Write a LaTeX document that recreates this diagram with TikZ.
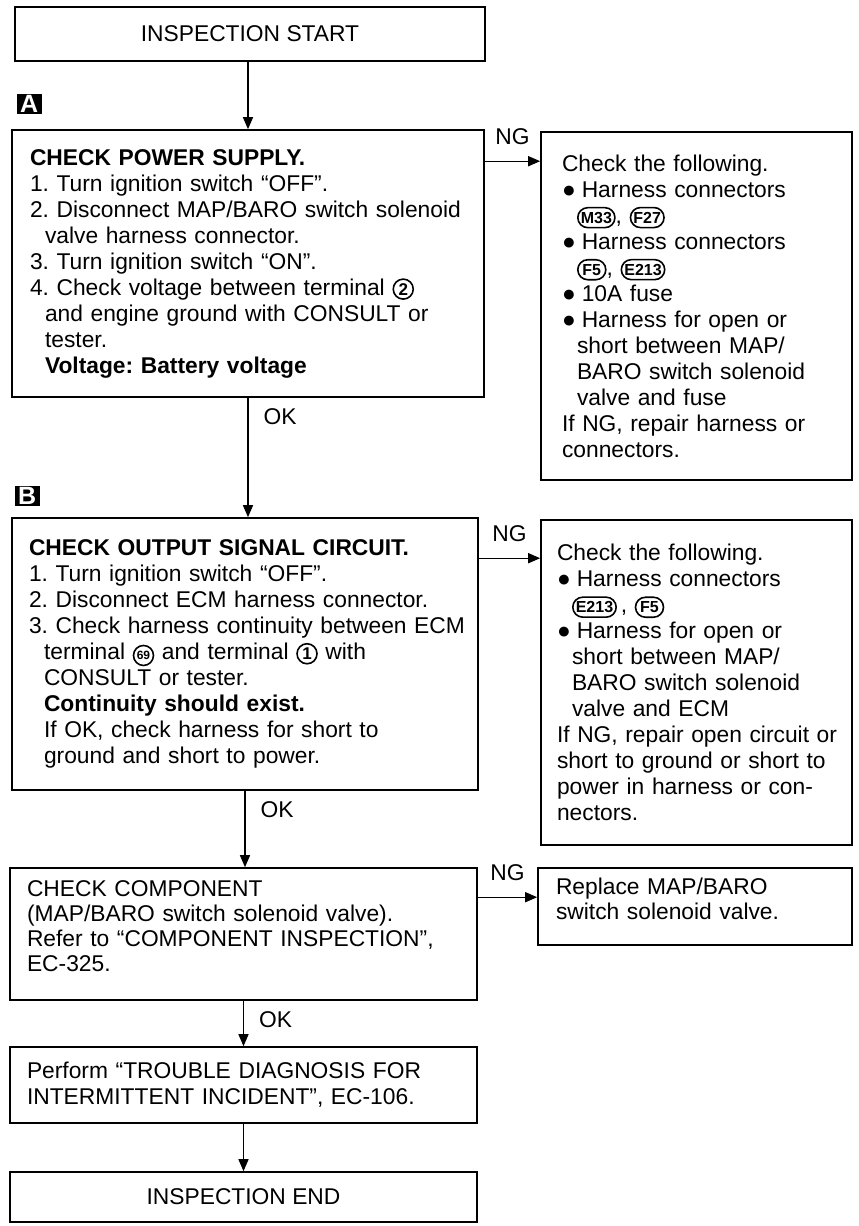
\documentclass[tikz,border=0pt]{standalone}
\usepackage{fontspec}
\setmainfont{Liberation Sans}
\usepackage{tikz}
\usetikzlibrary{positioning,arrows.meta}

\newcommand{\txt}{\fontsize{11.4}{13}\selectfont}
\newcommand{\txtc}{\fontsize{11.4}{12.4}\selectfont}
\newcommand{\indnt}{\hspace*{7.5pt}}
\newcommand{\bul}{●\hspace{3pt}}
\newcommand{\harn}[1]{\tikz[baseline=(cn.base)]\node[cnx](cn){#1};}
\newcommand{\circnum}[2][8.5]{\tikz[baseline=(tn.base)]\node[tnx, font=\bfseries\fontsize{#1}{#1}\selectfont](tn){#2};}

\begin{document}
\frenchspacing
\hfuzz=20pt
\begin{tikzpicture}[x=0.5pt, y=-0.5pt,
  stp/.style = {draw, line width=0.8pt, align=left, inner xsep=9pt, inner ysep=0pt, font=\txt},
  trm/.style = {draw, line width=0.8pt, align=center, inner sep=0pt, font=\txt},
  tag/.style = {fill=black, text=white, font=\bfseries\fontsize{12.5}{12.5}\selectfont,
                minimum width=12.5pt, minimum height=10pt, inner sep=0pt},
  arr/.style = {-{Triangle[length=6pt,width=5pt]}, line width=0.7pt},
  lbl/.style = {font=\txt, inner sep=0pt},
  cnx/.style = {draw, rounded corners=5pt, line width=0.8pt, text width=, align=center,
                minimum width=14pt, minimum height=10pt, inner xsep=1.5pt, inner ysep=0pt,
                font=\bfseries\fontsize{8}{8}\selectfont},
  tnx/.style = {draw, circle, line width=0.8pt, text width=, align=center,
                minimum size=10pt, inner sep=0pt}
]
\useasboundingbox (0,0) rectangle (858,1226);

% --- main column ---
\node[trm, minimum width=235pt, minimum height=27pt] (start) at (250,34) {INSPECTION START};

\node[stp, text width=218pt, minimum height=133.5pt] (chkA) at (248,263.5) {%
\textbf{CHECK POWER SUPPLY.}\\
1. Turn ignition switch “OFF”.\\
2. Disconnect MAP/BARO switch solenoid\\
\indnt valve harness connector.\\
3. Turn ignition switch “ON”.\\
4. Check voltage between terminal \circnum{2}\\
\indnt and engine ground with CONSULT or\\
\indnt tester.\\
\indnt\textbf{Voltage: Battery voltage}};
\node[tag, above right=7.5pt and 2.5pt of chkA.north west] (tagA) {A};

\node[stp, inner xsep=8.5pt, text width=216pt, minimum height=136pt] (chkB) at (245,654) {%
\textbf{CHECK OUTPUT SIGNAL CIRCUIT.}\\
1. Turn ignition switch “OFF”.\\
2. Disconnect ECM harness connector.\\
\mbox{3. Check harness continuity between ECM}\\
\indnt terminal \circnum[6]{69} and terminal \circnum{1} with\\
\indnt CONSULT or tester.\\
\indnt\textbf{Continuity should exist.}\\
\indnt If OK, check harness for short to\\
\indnt ground and short to power.};
\node[tag, above right=5.5pt and 1.5pt of chkB.north west] (tagB) {B};

\node[stp, font=\txtc, inner xsep=8.5pt, text width=216.5pt, text depth=45pt, minimum height=66pt] (comp) at (243.5,934) {%
CHECK COMPONENT\\
(MAP/BARO switch solenoid valve).\\
Refer to “COMPONENT INSPECTION”,\\
EC-325.};

\node[stp, inner xsep=8.5pt, text width=216.5pt, minimum height=38pt] (perf) at (243.5,1085) {%
Perform “TROUBLE DIAGNOSIS FOR\\
INTERMITTENT INCIDENT”, EC-106.};

\node[trm, minimum width=233.5pt, minimum height=25pt] (endb) at (243.5,1197) {INSPECTION END};

% --- NG column ---
\node[stp, inner xsep=10.5pt, text width=134.5pt, minimum height=174pt] (ngA) at (696.5,306) {%
Check the following.\\
\bul Harness connectors\\
\indnt\harn{M33}, \harn{F27}\\
\bul Harness connectors\\
\indnt\harn{F5}, \harn{E213}\\
\bul 10A fuse\\
\bul Harness for open or\\
\indnt short between MAP/\\
\indnt BARO switch solenoid\\
\indnt valve and fuse\\
If NG, repair harness or\\
connectors.};

\node[stp, inner xsep=8pt, text width=139.5pt, minimum height=162.5pt] (ngB) at (696.5,682.5) {%
Check the following.\\
\bul Harness connectors\\
\indnt\harn{E213}\,, \harn{F5}\\
\bul Harness for open or\\
\indnt short between MAP/\\
\indnt BARO switch solenoid\\
\indnt valve and ECM\\
\mbox{If NG, repair open circuit or}\\
short to ground or short to\\
power in harness or con-\\
nectors.};

\node[stp, font=\txtc, text width=139pt, text depth=20pt, minimum height=38.5pt] (ngC) at (695,906.5) {%
Replace MAP/BARO\\
switch solenoid valve.};

% --- OK flow ---
\draw[arr] (chkA.north |- start.south) -- (chkA.north);
\draw[arr] (chkA.south) -- (chkA.south |- chkB.north)
  node[lbl, pos=0, below right=5pt and 7.5pt] {OK};
\draw[arr] (chkB.south) -- (chkB.south |- comp.north)
  node[lbl, pos=0, below right=5pt and 7.5pt] {OK};
\draw[arr] (comp.south) -- (perf.north)
  node[lbl, pos=0, below right=5pt and 7.5pt] {OK};
\draw[arr] (perf.south) -- (endb.north);

% --- NG flow ---
\coordinate (ngAy) at ([yshift=-16pt]chkA.north east);
\coordinate (ngBy) at ([yshift=-20.5pt]chkB.north east);
\coordinate (ngCy) at ([yshift=-15pt]comp.north east);
\draw[arr] (ngAy) -- (ngAy -| ngA.west) node[lbl, midway, above=8pt] {NG};
\draw[arr] (ngBy) -- (ngBy -| ngB.west) node[lbl, midway, above=8pt] {NG};
\draw[arr] (ngCy) -- (ngCy -| ngC.west) node[lbl, midway, above=8pt] {NG};
\end{tikzpicture}
\end{document}
